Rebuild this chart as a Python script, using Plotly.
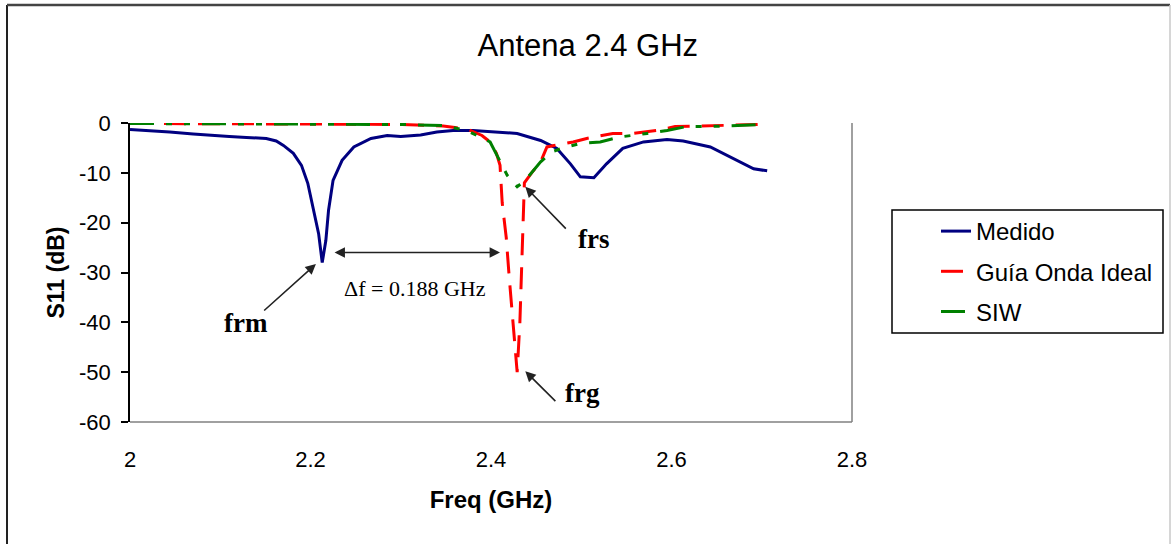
import plotly.graph_objects as go

# ---------------- data ----------------
freq_medido = [2.000, 2.020, 2.044, 2.070, 2.089, 2.110, 2.129, 2.151, 2.162, 2.170, 2.181, 2.190,
               2.197, 2.203, 2.209, 2.213, 2.217, 2.220, 2.225, 2.235, 2.248, 2.267, 2.285, 2.300,
               2.322, 2.340, 2.358, 2.380, 2.406, 2.429, 2.455, 2.473, 2.488, 2.499, 2.514, 2.528,
               2.546, 2.569, 2.595, 2.613, 2.643, 2.669, 2.691, 2.706]
s11_medido = [-1.3, -1.5, -1.8, -2.2, -2.5, -2.7, -2.9, -3.1, -3.6, -4.5, -6.1, -8.5,
              -12.1, -16.9, -22.2, -28.0, -23.6, -17.5, -11.5, -7.5, -4.8, -3.1, -2.5, -2.7,
              -2.4, -1.8, -1.5, -1.5, -1.8, -2.1, -3.5, -5.1, -8.2, -10.8, -11.0, -8.2,
              -5.1, -3.8, -3.3, -3.6, -4.8, -7.2, -9.2, -9.6]

freq_guia = [2.000, 2.100, 2.200, 2.300, 2.347, 2.360, 2.373, 2.390, 2.399, 2.406, 2.410, 2.4124,
             2.4169, 2.4202, 2.4246, 2.429, 2.432, 2.434, 2.436, 2.437, 2.445, 2.455, 2.462, 2.491,
             2.506, 2.535, 2.557, 2.584, 2.604, 2.653, 2.700]
s11_guia = [-0.1, -0.1, -0.2, -0.3, -0.6, -0.9, -1.2, -2.5, -3.8, -6.1, -8.5, -16.0,
            -23.0, -31.0, -40.0, -50.0, -40.0, -30.0, -20.0, -12.0, -10.0, -7.8, -4.8, -3.8,
            -3.1, -2.1, -2.1, -1.5, -0.7, -0.5, -0.3]

freq_siw = [2.000, 2.200, 2.300, 2.347, 2.373, 2.399, 2.410, 2.418, 2.429, 2.438, 2.455, 2.467,
            2.480, 2.499, 2.521, 2.543, 2.573, 2.595, 2.617, 2.643, 2.700]
s11_siw = [-0.1, -0.2, -0.3, -0.5, -1.5, -3.8, -7.8, -10.5, -12.8, -11.5, -7.8, -5.8,
           -5.0, -4.1, -3.8, -2.8, -2.1, -1.5, -0.7, -0.7, -0.3]

x_ticks = [2.0, 2.2, 2.4, 2.6, 2.8]
x_tick_labels = ["2", "2.2", "2.4", "2.6", "2.8"]
y_ticks = [0, -10, -20, -30, -40, -50, -60]
y_tick_labels = ["0", "-10", "-20", "-30", "-40", "-50", "-60"]

SANS = "Liberation Sans, Arial, sans-serif"
SERIF = "Liberation Serif, Times New Roman, serif"

fig = go.Figure()
fig.add_trace(go.Scatter(x=freq_medido, y=s11_medido, mode="lines", name="Medido",
                         legendgroup="a", line=dict(color="#000080", width=3)))
fig.add_trace(go.Scatter(x=freq_guia, y=s11_guia, mode="lines", name="Guía Onda Ideal",
                         legendgroup="b", line=dict(color="#FF0000", width=3, dash="22px,12px")))
fig.add_trace(go.Scatter(x=freq_siw, y=s11_siw, mode="lines", name="SIW",
                         legendgroup="c",
                         line=dict(color="#008000", width=3, dash="24px,12px,6px,12px,6px,12px")))

# ---------------- annotations ----------------
arrow = dict(showarrow=True, arrowhead=2, arrowsize=1.3, arrowwidth=1.6, arrowcolor="#222222",
             axref="x", ayref="y", text="")
annos = [
    dict(x=2.206, y=-28.3, ax=2.147, ay=-37.9, **arrow),
    dict(x=2.438, y=-12.8, ax=2.4845, ay=-21.5, **arrow),
    dict(x=2.438, y=-49.8, ax=2.473, ay=-56.1, **arrow),
    dict(x=2.410, y=-26.0, ax=2.225, ay=-26.0, arrowside="end+start", **arrow),
]
texts = [
    (2.1286, -40.2, "frm", True),
    (2.514, -23.2, "frs", True),
    (2.501, -54.2, "frg", True),
    (2.316, -33.2, "Δf = 0.188 GHz", False),
]
for x, y, t, b in texts:
    annos.append(dict(x=x, y=y, text=f"<b>{t}</b>" if b else t, showarrow=False,
                      xanchor="center", yanchor="middle",
                      font=dict(family=SERIF, size=27 if b else 22, color="black")))

# ---------------- frame shapes ----------------
def px_x(p):
    return (p - 130) / 722.0

def px_y(p):
    return (422 - p) / 299.0

shapes = [
    dict(type="line", xref="paper", yref="paper", x0=0, x1=1, y0=0, y1=0,
         line=dict(color="#808080", width=1.5), layer="below"),
    dict(type="line", xref="paper", yref="paper", x0=1, x1=1, y0=0, y1=1,
         line=dict(color="#808080", width=1.5), layer="below"),
    # outer chart border
    dict(type="line", xref="paper", yref="paper", x0=px_x(7), x1=px_x(7), y0=px_y(5), y1=px_y(560),
         line=dict(color="#222222", width=2)),
    dict(type="line", xref="paper", yref="paper", x0=px_x(7), x1=px_x(1170), y0=px_y(5), y1=px_y(5),
         line=dict(color="#444444", width=2.5)),
    dict(type="line", xref="paper", yref="paper", x0=px_x(1170), x1=px_x(1170), y0=px_y(5), y1=px_y(560),
         line=dict(color="#C8C8C8", width=1.5)),
    # legend frame
    dict(type="rect", xref="paper", yref="paper", x0=px_x(892), x1=px_x(1163),
         y0=px_y(333), y1=px_y(210), line=dict(color="black", width=1.5), fillcolor="white",
         layer="below"),
]

fig.update_layout(
    width=1171, height=544,
    margin=dict(l=130, r=319, t=123, b=122, autoexpand=False),
    paper_bgcolor="white", plot_bgcolor="white",
    title=dict(text="Antena 2.4 GHz", x=0.502, xanchor="center", y=0.917, yanchor="middle",
               font=dict(family=SANS, size=31, color="black")),
    font=dict(family=SANS, color="black"),
    showlegend=True,
    legend=dict(x=px_x(936), y=px_y(209), xanchor="left", yanchor="top",
                borderwidth=0, bgcolor="rgba(0,0,0,0)",
                font=dict(family=SANS, size=24, color="black"),
                tracegroupgap=6),
    xaxis=dict(range=[2, 2.8], tickvals=x_ticks, ticktext=x_tick_labels, automargin=False,
               showline=False, showgrid=False, zeroline=False, ticks="",
               tickfont=dict(family=SANS, size=22, color="black"), ticklabelstandoff=22,
               title=dict(text="<b>Freq (GHz)</b>", font=dict(family=SANS, size=24, color="black"),
                          standoff=20)),
    xaxis2=dict(range=[2, 2.8], tickvals=x_ticks, overlaying="x", side="top", anchor="y",
                automargin=False,
                showline=True, linecolor="black", linewidth=1.5, ticks="outside", ticklen=7,
                tickwidth=1.5, tickcolor="black", showticklabels=False, showgrid=False,
                zeroline=False),
    yaxis=dict(range=[-60, 0], tickvals=y_ticks, ticktext=y_tick_labels, automargin=False,
               showline=True, linecolor="black", linewidth=1.5,
               ticks="outside", ticklen=7, tickwidth=1.5, tickcolor="black",
               showgrid=False, zeroline=False,
               tickfont=dict(family=SANS, size=22, color="black"), ticklabelstandoff=6,
               title=dict(text="<b>S11 (dB)</b>", font=dict(family=SANS, size=23, color="black"),
                          standoff=8)),
    annotations=annos,
    shapes=shapes,
)

# page body has a default 8px margin; remove it so the figure sits at the window origin
fig.write_html("out.html", config={"displayModeBar": False},
               post_script="document.body.style.margin='0px';")
